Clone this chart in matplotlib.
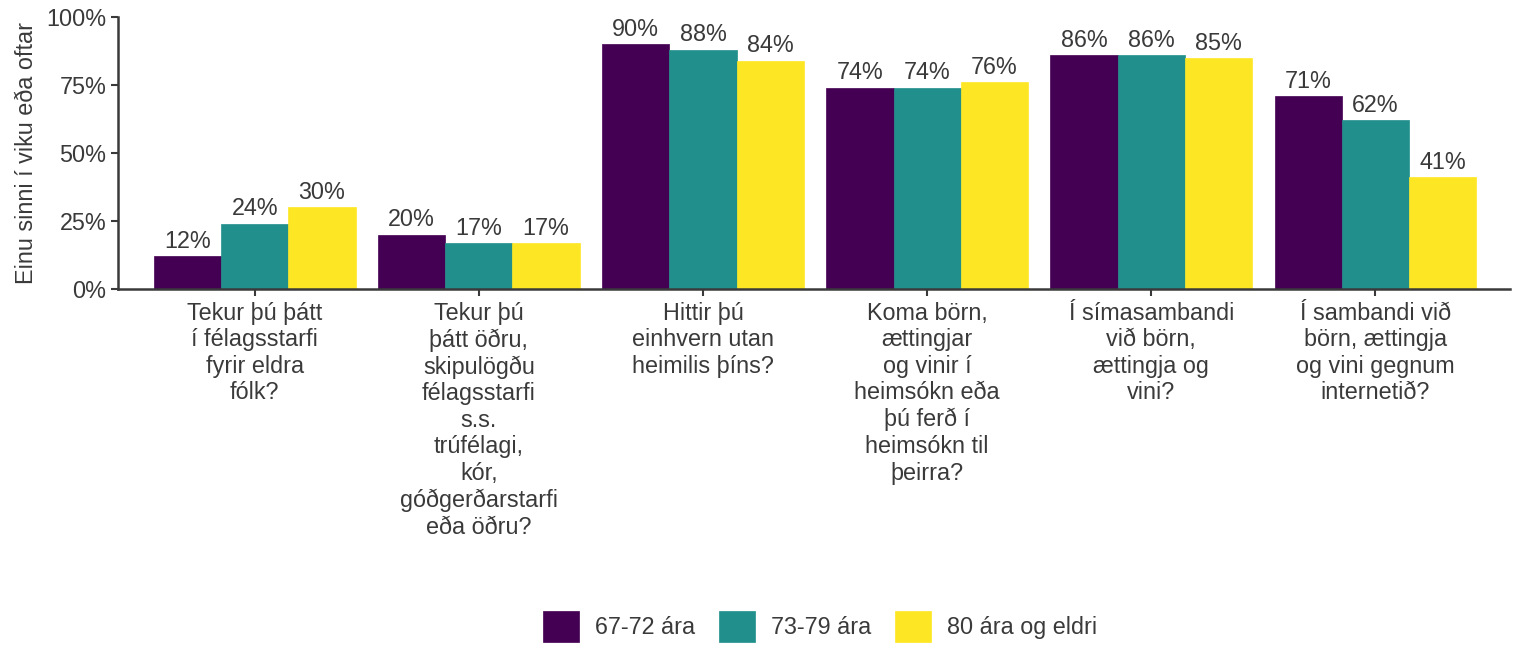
import numpy as np
import matplotlib.pyplot as plt

plt.rcParams['font.family'] = ['Liberation Sans', 'DejaVu Sans']

categories = [
    "Tekur þú þátt\ní félagsstarfi\nfyrir eldra\nfólk?",
    "Tekur þú\nþátt öðru,\nskipulögðu\nfélagsstarfi\ns.s.\ntrúfélagi,\nkór,\ngóðgerðarstarfi\neða öðru?",
    "Hittir þú\neinhvern utan\nheimilis þíns?",
    "Koma börn,\nættingjar\nog vinir í\nheimsókn eða\nþú ferð í\nheimsókn til\nþeirra?",
    "Í símasambandi\nvið börn,\nættingja og\nvini?",
    "Í sambandi við\nbörn, ættingja\nog vini gegnum\ninternetið?",
]
groups = ["67-72 ára", "73-79 ára", "80 ára og eldri"]
v_67_72 = [12, 20, 90, 74, 86, 71]
v_73_79 = [24, 17, 88, 74, 86, 62]
v_80 = [30, 17, 84, 76, 85, 41]
colors = ["#440154", "#21908C", "#FDE725"]

fs = 16.8
txt = "#3a3a3a"

fig = plt.figure(figsize=(15.19, 6.46), dpi=100)
ax = fig.add_axes([0.0777, 0.5526, 0.9163, 0.4211])

x = np.arange(len(categories))
w = 0.3
for i, (vals, name) in enumerate(zip([v_67_72, v_73_79, v_80], groups)):
    bars = ax.bar(x + (i - 1) * w, vals, w, color=colors[i], label=name,
                  edgecolor=colors[i], linewidth=0.5)
    for b, v in zip(bars, vals):
        ax.text(b.get_x() + b.get_width() / 2, v + 1.2, f"{v}%",
                ha="center", va="bottom", fontsize=fs, color=txt)

ax.set_xlim(-0.61, 5.6)
ax.set_ylim(0, 100)
ax.set_yticks([0, 25, 50, 75, 100])
ax.set_yticklabels(["0%", "25%", "50%", "75%", "100%"])
ax.set_xticks(x)
ax.set_xticklabels(categories, linespacing=1.2)
ax.tick_params(axis="both", labelsize=fs, colors=txt, width=1.5, length=5)
ax.tick_params(axis="x", pad=4)
ax.set_ylabel("Einu sinni í viku eða oftar", fontsize=fs, color=txt, labelpad=6)
for s in ["top", "right"]:
    ax.spines[s].set_visible(False)
for s in ["left", "bottom"]:
    ax.spines[s].set_color(txt)
    ax.spines[s].set_linewidth(1.8)

fig.legend(loc="center", bbox_to_anchor=(0.54, 0.03), ncol=3, frameon=False,
           fontsize=fs, handlelength=1.55, handleheight=1.63, columnspacing=1.0,
           handletextpad=0.7, labelcolor=txt)

fig.savefig("out.png", dpi=100)
